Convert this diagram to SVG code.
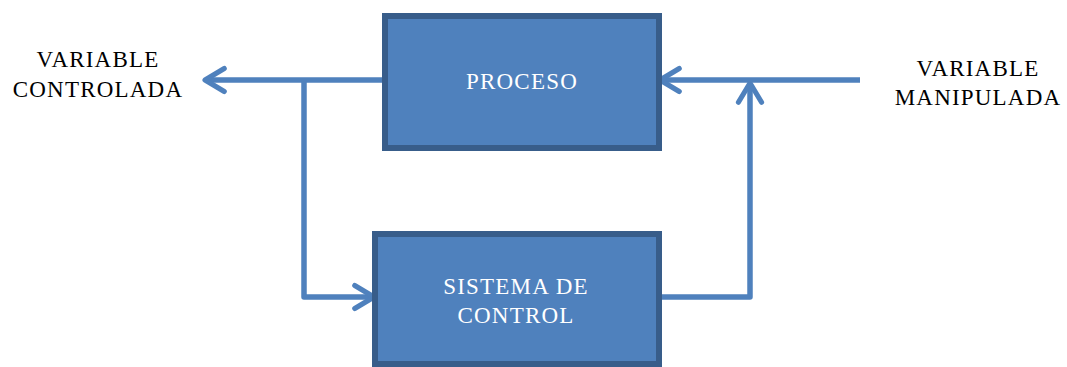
<svg xmlns="http://www.w3.org/2000/svg" width="1067" height="367" viewBox="0 0 1067 367">
<style>
.box{fill:#4F81BD;stroke:#385D8A;stroke-width:6}
.lbl{font-family:"Liberation Serif","Times New Roman",serif;font-size:23px;letter-spacing:1.2px;text-anchor:middle}
.in{fill:#FFFFFF}
.out{fill:#000000}
.wire{fill:none;stroke:#4F81BD;stroke-width:5.5;stroke-linejoin:round}
</style>
<defs>
<marker id="ah" viewBox="0 0 12 12" refX="10" refY="6" markerWidth="5.6" markerHeight="5.6" markerUnits="strokeWidth" orient="auto">
<path d="M2.5,1.5 L10,6 L2.5,10.5" fill="none" stroke="#4F81BD" stroke-width="2" stroke-linecap="round" stroke-linejoin="round"/>
</marker>
</defs>
<g id="connectors">
<path class="wire" d="M385,80 L205,80" marker-end="url(#ah)"/>
<path class="wire" d="M304,80 L304,297 L374,297" marker-end="url(#ah)"/>
<path class="wire" d="M662,297 L750,297 L750,83" marker-end="url(#ah)"/>
<path class="wire" d="M860,80 L660,80" marker-end="url(#ah)"/>
</g>
<g id="proceso">
<rect class="box" x="385" y="16" width="274" height="132"/>
<text class="lbl in" x="522" y="89">PROCESO</text>
</g>
<g id="sistema">
<rect class="box" x="375" y="234" width="284" height="130"/>
<text class="lbl in" x="516" y="294">SISTEMA DE</text>
<text class="lbl in" x="516" y="323">CONTROL</text>
</g>
<g id="var-controlada">
<text class="lbl out" x="98" y="67">VARIABLE</text>
<text class="lbl out" x="98" y="97">CONTROLADA</text>
</g>
<g id="var-manipulada">
<text class="lbl out" x="978" y="76">VARIABLE</text>
<text class="lbl out" x="978" y="105">MANIPULADA</text>
</g>
</svg>
